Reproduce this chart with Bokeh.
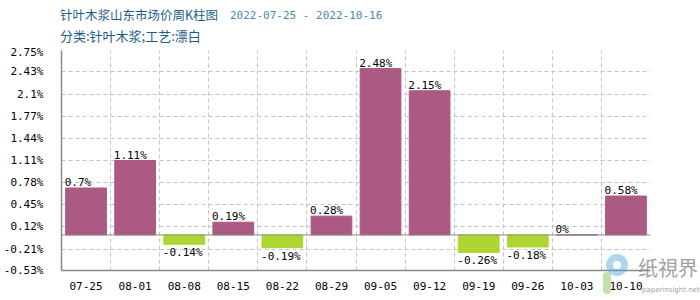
from bokeh.plotting import figure
from bokeh.models import FixedTicker, Span, Div, ColumnDataSource
from bokeh.layouts import column
from bokeh.core.properties import value
from bokeh.embed import file_html
from bokeh.resources import INLINE

categories = ["07-25", "08-01", "08-08", "08-15", "08-22", "08-29",
              "09-05", "09-12", "09-19", "09-26", "10-03", "10-10"]
changes = [0.7, 1.11, -0.14, 0.19, -0.19, 0.28, 2.48, 2.15, -0.26, -0.18, 0, 0.58]
y_ticks = [-0.53, -0.21, 0.12, 0.45, 0.78, 1.11, 1.44, 1.77, 2.1, 2.43, 2.75]
y_tick_labels = ["-0.53%", "-0.21%", "0.12%", "0.45%", "0.78%", "1.11%",
                 "1.44%", "1.77%", "2.1%", "2.43%", "2.75%"]
title_main = "针叶木浆山东市场价周K柱图"
title_dates = "2022-07-25 - 2022-10-16"
subtitle = "分类:针叶木浆;工艺:漂白"
wm_cn = "纸視界"
wm_en = "paperinsight.net"

UP = "#AB5A83"
DOWN = "#ADD632"
MONO = "DejaVu Sans Mono"
CJK = "Noto Sans CJK SC"

n = len(categories)
centers = [i + 0.5 for i in range(n)]
colors = [UP if v >= 0 else DOWN for v in changes]
labels = [f"{v:g}%" for v in changes]
bar_w = 0.83

HEAD = 45
header = Div(
    text=(
        f'<div style="position:relative;width:700px;height:{HEAD}px;overflow:visible;">'
        f'<span style="position:absolute;left:60px;top:6px;font-family:\'{CJK}\';font-size:12.5px;'
        f'line-height:18px;color:#1B5E8C;white-space:nowrap;">{title_main}</span>'
        f'<span style="position:absolute;left:230px;top:7px;font-family:\'{MONO}\';font-size:11px;'
        f'line-height:18px;color:#4A86B0;white-space:nowrap;">{title_dates}</span>'
        f'<span style="position:absolute;left:60px;top:27px;font-family:\'{CJK}\';font-size:13px;'
        f'line-height:18px;color:#1B5E8C;white-space:nowrap;">{subtitle}</span>'
        f'<span style="position:absolute;left:606px;top:254px;width:22px;height:22px;z-index:10;'
        f'border:7px solid rgba(80,165,215,0.45);border-radius:50%;"></span>'
        f'<span style="position:absolute;left:603px;top:272px;width:8px;height:22px;z-index:10;'
        f'background:rgba(120,190,60,0.45);border-radius:4px;"></span>'
        f'<span style="position:absolute;left:638px;top:255px;z-index:10;font-family:\'{CJK}\';'
        f'font-size:20px;line-height:26px;color:#8a8a8a;opacity:0.8;white-space:nowrap;">{wm_cn}</span>'
        f'<span style="position:absolute;left:642px;top:286px;z-index:10;font-family:\'DejaVu Sans\';'
        f'font-size:7px;line-height:9px;color:#8a8a8a;opacity:0.8;white-space:nowrap;">{wm_en}</span>'
        f'</div>'
    ),
    width=700, height=HEAD, margin=(0, 0, 0, 0), styles={"overflow": "visible", "z-index": "10"},
)

p = figure(width=700, height=300 - HEAD, x_range=(0, n), y_range=(y_ticks[0], y_ticks[-1]),
           output_backend="svg", toolbar_location=None, margin=(0, 0, 0, 0),
           min_border_left=60, min_border_right=50, min_border_top=5, min_border_bottom=30)
p.outline_line_color = None
p.background_fill_color = "white"

lefts = [c - bar_w / 2 for c in centers]
src = ColumnDataSource(dict(x=centers, top=changes, color=colors))
p.vbar(x="x", top="top", bottom=0, width=bar_w, fill_color="color", line_color="color",
       line_width=1, source=src)

pos = ColumnDataSource(dict(x=[l for l, v in zip(lefts, changes) if v >= 0],
                            y=[v for v in changes if v >= 0],
                            t=[l for l, v in zip(labels, changes) if v >= 0]))
neg = ColumnDataSource(dict(x=[l for l, v in zip(lefts, changes) if v < 0],
                            y=[v for v in changes if v < 0],
                            t=[l for l, v in zip(labels, changes) if v < 0]))
p.text(x="x", y="y", text="t", source=pos, text_font=value(MONO), text_font_size="11px",
       text_color="black", text_align="left", text_baseline="bottom", x_offset=-1, y_offset=1)
p.text(x="x", y="y", text="t", source=neg, text_font=value(MONO), text_font_size="11px",
       text_color="black", text_align="left", text_baseline="top", x_offset=-1, y_offset=2)

p.add_layout(Span(location=0, dimension="width", line_color="#888888", line_width=1))

for ax in (p.xaxis[0], p.yaxis[0]):
    ax.axis_line_color = "#888888"
    ax.axis_line_width = 1.5
    ax.major_tick_line_color = None
    ax.minor_tick_line_color = None
    ax.major_label_text_font = MONO
    ax.major_label_text_font_size = "11px"
    ax.major_label_text_color = "black"

p.xaxis.ticker = FixedTicker(ticks=centers)
p.xaxis.major_label_overrides = {c: cat for c, cat in zip(centers, categories)}
p.xaxis.major_label_standoff = 5
p.yaxis.ticker = FixedTicker(ticks=y_ticks)
p.yaxis.major_label_overrides = {t: l for t, l in zip(y_ticks, y_tick_labels)}
p.yaxis.major_label_standoff = 12

p.xgrid.ticker = FixedTicker(ticks=list(range(1, n + 1)))
p.ygrid.ticker = FixedTicker(ticks=y_ticks[1:])
for g in (p.xgrid[0], p.ygrid[0]):
    g.grid_line_color = "#c4c4c4"
    g.grid_line_dash = "4 3"
    g.grid_line_width = 1

layout = column(header, p, spacing=0, margin=(0, 0, 0, 0))
open("out.html", "w").write(file_html(layout, INLINE))
